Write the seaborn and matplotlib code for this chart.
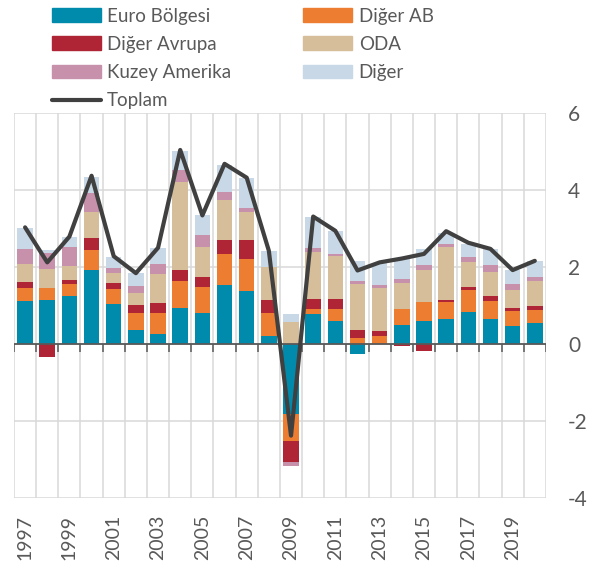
import numpy as np
import matplotlib
matplotlib.use('Agg')
import matplotlib.pyplot as plt
import seaborn as sns
from matplotlib.patches import Patch
from matplotlib.lines import Line2D

# yearly contributions (percentage points)
years = list(range(1997, 2021))
euro = [1.11, 1.13, 1.24, 1.91, 1.03, 0.36, 0.27, 0.93, 0.80, 1.52, 1.38, 0.22,
        -1.82, 0.77, 0.59, -0.26, 0.00, 0.49, 0.61, 0.64, 0.84, 0.65, 0.46, 0.54]
diger_ab = [0.34, 0.33, 0.32, 0.54, 0.41, 0.45, 0.54, 0.71, 0.68, 0.83, 0.84, 0.58,
            -0.69, 0.15, 0.33, 0.15, 0.22, 0.43, 0.47, 0.44, 0.55, 0.46, 0.39, 0.35]
diger_avrupa = [0.17, -0.34, 0.09, 0.30, 0.14, 0.19, 0.25, 0.27, 0.25, 0.36, 0.47, 0.33,
                -0.55, 0.26, 0.26, 0.21, 0.12, -0.04, -0.17, 0.07, 0.08, 0.13, 0.09, 0.10]
oda = [0.47, 0.48, 0.38, 0.67, 0.27, 0.32, 0.77, 2.29, 0.78, 1.03, 0.75, 0.86,
       0.56, 1.21, 1.10, 1.19, 1.11, 0.66, 0.85, 1.38, 0.65, 0.64, 0.47, 0.65]
kuzey_amerika = [0.39, 0.42, 0.48, 0.49, 0.13, 0.19, 0.26, 0.33, 0.31, 0.22, 0.10, 0.02,
                 -0.12, 0.10, 0.07, 0.09, 0.09, 0.12, 0.13, 0.08, 0.13, 0.16, 0.14, 0.11]
diger = [0.54, 0.08, 0.28, 0.44, 0.28, 0.33, 0.41, 0.49, 0.52, 0.69, 0.77, 0.41,
         0.22, 0.80, 0.59, 0.52, 0.56, 0.51, 0.42, 0.28, 0.36, 0.43, 0.37, 0.41]
toplam = [3.03, 2.12, 2.79, 4.37, 2.28, 1.84, 2.50, 5.04, 3.34, 4.68, 4.32, 2.42,
          -2.38, 3.31, 2.94, 1.91, 2.12, 2.22, 2.34, 2.93, 2.63, 2.47, 1.92, 2.16]

series = [
    ('Euro Bölgesi', euro, '#008BAD'),
    ('Diğer AB', diger_ab, '#ED7D31'),
    ('Diğer Avrupa', diger_avrupa, '#B02536'),
    ('ODA', oda, '#D6BE9A'),
    ('Kuzey Amerika', kuzey_amerika, '#C790AB'),
    ('Diğer', diger, '#C8D8E7'),
]

sns.set_style('white')
plt.rcParams['font.family'] = ['Lato', 'DejaVu Sans']
plt.rcParams['axes.unicode_minus'] = False
text_col = '#595959'

fig = plt.figure(figsize=(6.01, 5.69), dpi=100)
ax = fig.add_axes([0.0233, 0.1248, 0.885, 0.6766])

x = np.arange(len(years))
pos_bottom = np.zeros(len(years))
neg_bottom = np.zeros(len(years))
for name, vals, col in series:
    v = np.array(vals)
    bottom = np.where(v >= 0, pos_bottom, neg_bottom)
    ax.bar(x, v, bottom=bottom, width=0.7, color=col, linewidth=0, zorder=2)
    pos_bottom += np.where(v >= 0, v, 0)
    neg_bottom += np.where(v < 0, v, 0)

# zero axis with Excel-style ticks between categories
ax.axhline(0, color=text_col, lw=1.3, zorder=3)
ax.vlines(np.arange(len(years) + 1) - 0.5, -0.2, 0, color=text_col, lw=1.1, zorder=3)

sns.lineplot(x=x, y=toplam, color='#404040', lw=3, ax=ax, zorder=4)

ax.set_xlim(-0.5, len(years) - 0.5)
ax.set_ylim(-4, 6)
ax.set_yticks(np.arange(-4, 7, 2))
ax.set_xticks(x[::2])
ax.set_xticklabels([str(y) for y in years[::2]], rotation=90)
ax.set_xticks(np.arange(len(years) + 1) - 0.5, minor=True)
ax.yaxis.tick_right()
ax.tick_params(axis='y', length=0, pad=16, labelsize=15, labelcolor=text_col)
ax.tick_params(axis='x', which='both', length=0, pad=12, labelsize=14, labelcolor=text_col)
ax.grid(axis='y', which='major', color='#D9D9D9', lw=1.1, zorder=0)
ax.grid(axis='x', which='minor', color='#D9D9D9', lw=1.1, zorder=0)
ax.grid(axis='x', which='major', visible=False)
for s in ax.spines.values():
    s.set_visible(False)
ax.set_axisbelow(True)

# legend: order so ncol=2 fills row-wise like the reference
p = {name: Patch(color=col) for name, _, col in series}
line_h = Line2D([0], [0], color='#404040', lw=3)
handles = [p['Euro Bölgesi'], p['Diğer Avrupa'], p['Kuzey Amerika'], line_h,
           p['Diğer AB'], p['ODA'], p['Diğer']]
labels = ['Euro Bölgesi', 'Diğer Avrupa', 'Kuzey Amerika', 'Toplam',
          'Diğer AB', 'ODA', 'Diğer']
fig.legend(handles, labels, ncol=2, loc='upper left', bbox_to_anchor=(0.083, 0.99),
           frameon=False, fontsize=13.5, labelcolor=text_col, handlelength=2.6,
           handleheight=0.75, handletextpad=0.35, columnspacing=3.85,
           labelspacing=0.6, borderpad=0.1, borderaxespad=0)

fig.savefig('out.png', dpi=100)
